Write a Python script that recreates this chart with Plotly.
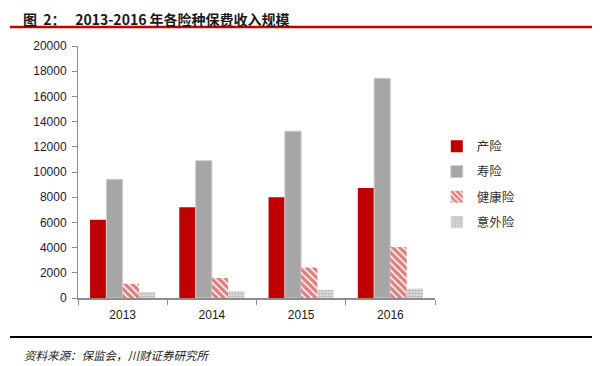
import plotly.graph_objects as go

years = ["2013", "2014", "2015", "2016"]
series_names = ["产险", "寿险", "健康险", "意外险"]
property_ins = [6212, 7203, 7995, 8725]
life_ins = [9425, 10902, 13242, 17442]
health_ins = [1124, 1587, 2410, 4043]
accident_ins = [461, 542, 636, 750]
y_ticks = [0, 2000, 4000, 6000, 8000, 10000, 12000, 14000, 16000, 18000, 20000]

title_text = "图\u00a0\u00a02：\u00a0\u00a0\u00a02013-2016 年各险种保费收入规模"
source_text = "资料来源：保监会，川财证券研究所"

# page body has an 8px default margin; layout numbers below are figure coords
L, R, T, B = 70, 177, 38, 76
PW = 604 - L - R
PH = 366 - T - B
PB = 366 - B  # figure y of the plot bottom


def px(fx):
    return (fx - L) / PW


def py(fy):
    return (PB - fy) / PH


fig = go.Figure()
fig.add_trace(go.Bar(x=years, y=property_ins, name=series_names[0], legendgroup="a",
                     marker=dict(color="#C00000", line=dict(width=0))))
fig.add_trace(go.Bar(x=years, y=life_ins, name=series_names[1], legendgroup="b",
                     marker=dict(color="#A6A6A6", line=dict(width=1, color="#D0D0D0"))))
fig.add_trace(go.Bar(x=years, y=health_ins, name=series_names[2], legendgroup="c",
                     marker=dict(color="white", line=dict(width=0),
                                 pattern=dict(shape="\\", fgcolor="#C00000", bgcolor="white",
                                              size=5, solidity=0.7))))
fig.add_trace(go.Bar(x=years, y=accident_ins, name=series_names[3], legendgroup="d",
                     marker=dict(color="white", line=dict(width=0),
                                 pattern=dict(shape=".", fgcolor="#8C8C8C", bgcolor="#E8E8E8",
                                              size=3, solidity=0.6))))

fig.update_layout(
    width=604, height=366,
    margin=dict(l=L, r=R, t=T, b=B),
    paper_bgcolor="white", plot_bgcolor="white",
    barmode="group", bargap=0.27, bargroupgap=0,
    font=dict(family="Liberation Sans, Arial, sans-serif", size=12, color="#1A1A2E"),
    showlegend=True,
    legend=dict(x=1.005, y=0.66, xanchor="left", yanchor="top",
                font=dict(family="Noto Sans CJK SC", size=12.5, color="#333333"),
                tracegroupgap=6, bgcolor="rgba(0,0,0,0)"),
    xaxis=dict(type="category", showline=True, linecolor="#8C8C8C", linewidth=2,
               ticks="outside", tickson="boundaries", ticklen=5, tickcolor="#8C8C8C",
               showgrid=False, ticklabelstandoff=5, tickfont=dict(size=12, color="#1A1A1A")),
    yaxis=dict(range=[0, 20000], tickvals=y_ticks, tickformat="d", showline=True,
               linecolor="#8C8C8C", linewidth=1, ticks="outside", ticklen=5,
               tickcolor="#8C8C8C", showgrid=False, zeroline=False, ticklabelstandoff=3,
               tickfont=dict(size=12, color="#1A1A2E")),
    shapes=[
        dict(type="line", xref="paper", yref="paper", x0=px(2), x1=px(584),
             y0=py(19), y1=py(19), line=dict(color="#C00000", width=2.5)),
        dict(type="line", xref="paper", yref="paper", x0=px(2), x1=px(584),
             y0=py(329), y1=py(329), line=dict(color="black", width=2)),
    ],
    annotations=[
        dict(text="<b>" + title_text + "</b>", xref="paper", yref="paper",
             x=px(14), y=py(0), xanchor="left", yanchor="top", borderpad=0,
             showarrow=False, font=dict(family="Noto Sans CJK SC", size=14, color="#1A1A1A")),
        dict(text=source_text, xref="paper", yref="paper",
             x=px(14), y=py(347), xanchor="left", yanchor="middle",
             showarrow=False, font=dict(family="Noto Sans CJK SC", size=11.5, color="#222222",
                                        style="italic")),
    ],
)

fig.write_html("out.html")
